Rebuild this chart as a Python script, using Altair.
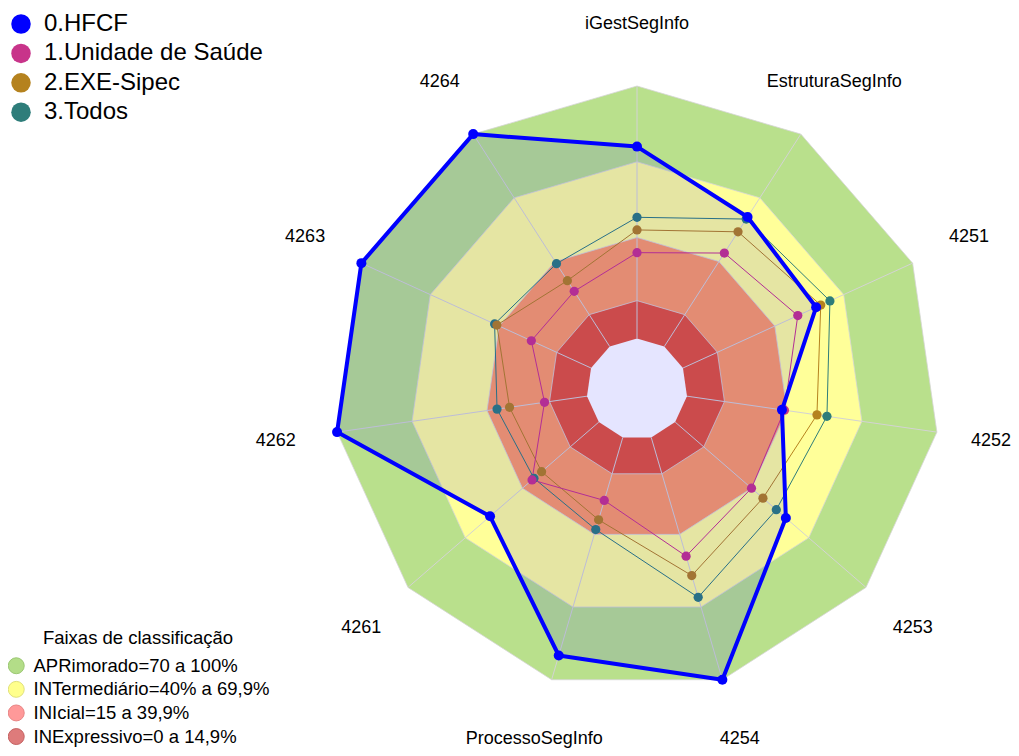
import altair as alt
import pandas as pd

# ---------------- data ----------------
axes_labels = ["iGestSegInfo", "EstruturaSegInfo", "4251", "4252", "4253", "4254",
               "ProcessoSegInfo", "4261", "4262", "4263", "4264"]

series_names = ["0.HFCF", "1.Unidade de Saúde", "2.EXE-Sipec", "3.Todos"]
series_colors = ["#0000FF", "#C8348A", "#B5821E", "#2E7D7A"]

hfcf = [76, 61, 58, 38, 58, 100, 90, 57, 100, 100, 100]
unidade = [34, 44, 50, 39, 40, 49, 26, 35, 17, 26, 26]
exe_sipec = [43, 54, 60, 52, 46, 57, 34, 30, 31, 41, 31]
todos = [48, 60, 64, 56, 53, 66, 38, 34, 36, 42, 39]

band_labels = ["APRimorado=70 a 100%", "INTermediário=40% a 69,9%",
               "INIcial=15 a 39,9%", "INExpressivo=0 a 14,9%"]
band_levels = [100, 70, 40, 15, 0]
band_colors = ["#B9E08C", "#FFFF99", "#FD9C64", "#E35438", "#FFFFFF"]
legend_fills = ["#B3DD88", "#FFFF8C", "#FF9999", "#DE7B7B"]
legend_strokes = ["#9CC874", "#E0E07A", "#E88585", "#C46262"]

VMIN, VMAX = -20, 100
LABEL_LEVEL = 124.5
N = len(axes_labels)

# ---------------- layout ----------------
R_PX = 303
CX, CY = 629, 381
W, H = 1003, 740
xdom = [-CX / R_PX, (W - CX) / R_PX]
ydom = [-(H - CY) / R_PX, CY / R_PX]
FONT = "Liberation Sans"
LABEL_FS = 18
LABEL_HALF_W = 20  # keep axis labels inside the drawing (px)
x_label_max = (W - CX - LABEL_HALF_W) / R_PX

xs = alt.X("x:Q", scale=alt.Scale(domain=xdom, nice=False, zero=False), axis=None)
ys = alt.Y("y:Q", scale=alt.Scale(domain=ydom, nice=False, zero=False), axis=None)


def polar(ch):
    return ch.transform_calculate(
        r=f"(datum.value - ({VMIN})) / {VMAX - VMIN}",
        ang=f"datum.idx * 2 * PI / {N}",
    ).transform_calculate(
        x="datum.r * sin(datum.ang)",
        y="datum.r * cos(datum.ang)",
    )


# tables
band_rows = []
for b, lvl in enumerate(band_levels):
    for i in range(N):
        band_rows.append({"band": b, "idx": i, "value": lvl})
bands_df = pd.DataFrame(band_rows)

series_vals = {"0.HFCF": hfcf, "1.Unidade de Saúde": unidade,
               "2.EXE-Sipec": exe_sipec, "3.Todos": todos}
draw_order = ["3.Todos", "2.EXE-Sipec", "1.Unidade de Saúde"]
rows = []
for name in draw_order:
    for i, v in enumerate(series_vals[name]):
        rows.append({"series": name, "idx": i, "value": v})
others_df = pd.DataFrame(rows)
hfcf_df = pd.DataFrame({"series": "0.HFCF", "idx": range(N), "value": hfcf})
axes_df = pd.DataFrame({"idx": range(N), "label": axes_labels})
legend_df = pd.DataFrame({"band": band_labels, "idx": 0, "value": VMIN})

color_scale = alt.Scale(domain=series_names, range=series_colors)
col_of = dict(zip(series_names, series_colors))


def band_legend_def():
    return alt.Legend(title="Faixas de classificação", orient="none",
                      legendX=-1, legendY=621, padding=0,
                      titleFont=FONT, titleFontSize=18.5, titleLimit=0,
                      titleFontWeight="normal", titleColor="black",
                      titleAnchor="middle", titlePadding=9,
                      labelFont=FONT, labelFontSize=18.5, labelColor="black",
                      labelLimit=0, labelOffset=8, symbolType="circle",
                      symbolSize=254, symbolStrokeWidth=1, symbolOpacity=1,
                      rowPadding=2.6)


# hidden layer that carries the bands legend
band_legend = polar(alt.Chart(legend_df)).mark_circle(size=1, opacity=1).encode(
    x=xs, y=ys,
    fill=alt.Fill("band:N", scale=alt.Scale(domain=band_labels, range=legend_fills),
                  legend=band_legend_def()),
    stroke=alt.Stroke("band:N", scale=alt.Scale(domain=band_labels, range=legend_strokes),
                      legend=band_legend_def()),
)

band_layers = []
for b in range(len(band_levels)):
    stroke_w = 0.8 if b < len(band_levels) - 1 else 0
    band_layers.append(
        polar(alt.Chart(bands_df).transform_filter(f"datum.band == {b}"))
        .mark_line(interpolate="linear-closed", fill=band_colors[b], fillOpacity=1,
                   stroke="#D6D6D6", strokeWidth=stroke_w)
        .encode(x=xs, y=ys, order=alt.Order("idx:Q"))
    )

spokes = alt.Chart(axes_df).transform_calculate(
    ang=f"datum.idx * 2 * PI / {N}",
    r0=f"(0 - ({VMIN})) / {VMAX - VMIN}",
).transform_calculate(
    x="datum.r0 * sin(datum.ang)", y="datum.r0 * cos(datum.ang)",
    x2="sin(datum.ang)", y2="cos(datum.ang)",
).mark_rule(color="#D3D3D3", strokeWidth=1).encode(x=xs, y=ys, x2="x2:Q", y2="y2:Q")

line_layers = []
for name in draw_order:
    line_layers.append(
        polar(alt.Chart(others_df).transform_filter(alt.datum.series == name))
        .mark_line(interpolate="linear-closed", strokeWidth=1, stroke=col_of[name])
        .encode(x=xs, y=ys, order=alt.Order("idx:Q"))
    )

other_points = polar(alt.Chart(others_df)).mark_circle(size=85, opacity=1).encode(
    x=xs, y=ys,
    color=alt.Color("series:N", scale=color_scale, sort=series_names,
                    legend=alt.Legend(title=None, orient="none", legendX=1, legendY=4,
                                      padding=0, labelFont=FONT, labelFontSize=24,
                                      labelColor="black", labelOffset=11, labelLimit=0,
                                      symbolType="circle", symbolSize=380,
                                      symbolStrokeWidth=0, symbolOpacity=1,
                                      rowPadding=5.4)),
)

hfcf_poly = polar(alt.Chart(hfcf_df)).mark_line(
    interpolate="linear-closed", fill="#0000FF", fillOpacity=0.1,
    stroke="#0000FF", strokeWidth=4, strokeJoin="round"
).encode(x=xs, y=ys, order=alt.Order("idx:Q"))

hfcf_points = polar(alt.Chart(hfcf_df)).mark_circle(
    size=100, opacity=1, color=col_of["0.HFCF"]
).encode(x=xs, y=ys)

labels = alt.Chart(axes_df).transform_calculate(
    ang=f"datum.idx * 2 * PI / {N}",
    r=f"({LABEL_LEVEL} - ({VMIN})) / {VMAX - VMIN}",
).transform_calculate(
    x=f"min(datum.r * sin(datum.ang), {x_label_max})",
    y="datum.r * cos(datum.ang)",
).mark_text(font=FONT, fontSize=LABEL_FS, color="black", align="center",
            baseline="middle").encode(x=xs, y=ys, text="label:N")

chart = alt.layer(
    band_legend, *band_layers, spokes, *line_layers, other_points,
    hfcf_poly, hfcf_points, labels
).properties(
    width=W, height=H, autosize="none", padding=0, background="white"
).configure_view(stroke=None)

chart.save("out.html", embed_options={"renderer": "svg", "actions": False})
